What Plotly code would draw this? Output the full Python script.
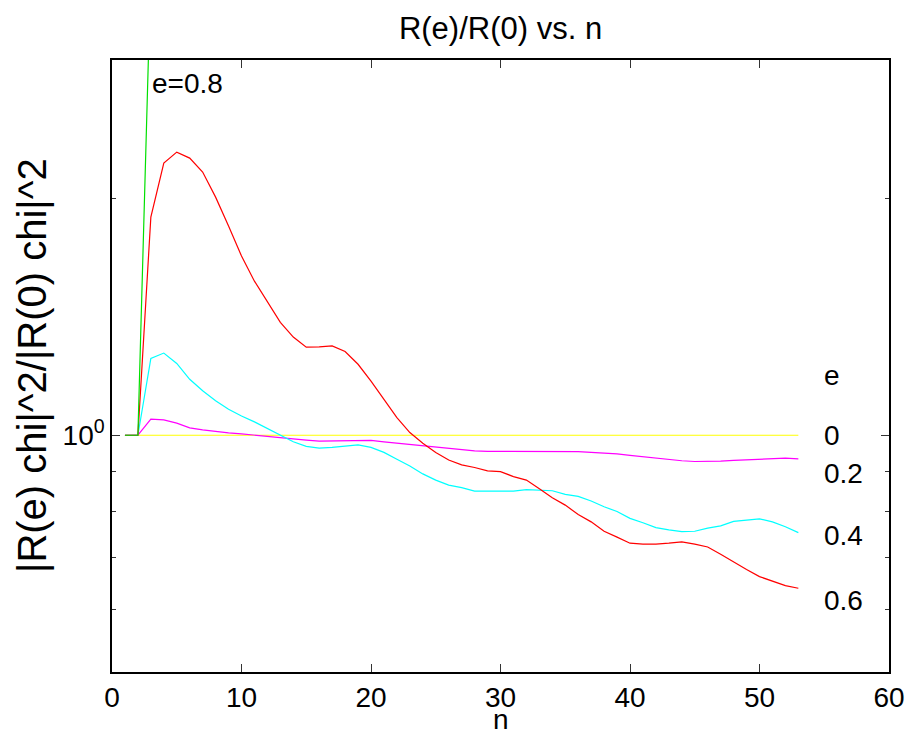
import math
import plotly.graph_objects as go

n = list(range(1, 54))

e0 = [1.0] * 53

e02 = [1.0, 1.0, 1.048, 1.046, 1.036, 1.022, 1.016, 1.011, 1.007, 1.004,
       1.000, 0.997, 0.992, 0.990, 0.986, 0.983, 0.983, 0.983, 0.985, 0.985,
       0.981, 0.977, 0.973, 0.969, 0.965, 0.962, 0.958, 0.955, 0.954, 0.954,
       0.954, 0.954, 0.954, 0.954, 0.954, 0.953, 0.951, 0.950, 0.947, 0.943,
       0.939, 0.935, 0.931, 0.928, 0.926, 0.926, 0.927, 0.929, 0.931, 0.933,
       0.934, 0.935, 0.933]

e04 = [1.0, 1.0, 1.252, 1.272, 1.234, 1.178, 1.139, 1.106, 1.079, 1.058,
       1.040, 1.020, 1.000, 0.981, 0.968, 0.963, 0.965, 0.969, 0.972, 0.965,
       0.951, 0.932, 0.914, 0.893, 0.877, 0.864, 0.858, 0.849, 0.849, 0.849,
       0.849, 0.853, 0.851, 0.850, 0.841, 0.836, 0.825, 0.811, 0.800, 0.784,
       0.774, 0.763, 0.758, 0.754, 0.755, 0.762, 0.767, 0.777, 0.780, 0.783,
       0.776, 0.765, 0.752]

e06 = [1.0, 1.0, 1.894, 2.218, 2.291, 2.251, 2.161, 2.008, 1.845, 1.690,
       1.570, 1.476, 1.392, 1.333, 1.294, 1.295, 1.299, 1.278, 1.231, 1.172,
       1.111, 1.053, 1.008, 0.977, 0.951, 0.930, 0.917, 0.910, 0.901, 0.899,
       0.886, 0.877, 0.855, 0.833, 0.815, 0.793, 0.776, 0.755, 0.742, 0.729,
       0.727, 0.727, 0.729, 0.732, 0.727, 0.721, 0.706, 0.690, 0.675, 0.661,
       0.652, 0.644, 0.639]

n08 = [1, 2, 3]
e08 = [1.0, 1.0, 3.9]

series = [
    ("0", n, e0, "#ffff00"),
    ("0.2", n, e02, "#ff00ff"),
    ("0.4", n, e04, "#00ffff"),
    ("0.6", n, e06, "#ff0000"),
    ("0.8", n08, e08, "#00e000"),
]

# text labels: (text, x, y)
labels = [
    ("e", 54.8, 1.19),
    ("0", 54.8, 1.0),
    ("0.2", 54.8, 0.895),
    ("0.4", 54.8, 0.745),
    ("0.6", 54.8, 0.617),
    ("e=0.8", 2.95, 2.8),
]

x_ticks = [0, 10, 20, 30, 40, 50, 60]
y_major = [1]
y_major_text = ["10<sup>0</sup>"]
y_minor = [0.6, 0.7, 0.8, 0.9, 2, 3]

FONT = "Liberation Sans, Arial, sans-serif"

fig = go.Figure()
for name, xs, ys, col in series:
    fig.add_trace(go.Scatter(x=xs, y=ys, mode="lines", name=name,
                             line=dict(color=col, width=1.2),
                             showlegend=False, hoverinfo="skip"))

for txt, lx, ly in labels:
    fig.add_annotation(x=lx, y=math.log10(ly), xref="x", yref="y", text=txt,
                       showarrow=False, xanchor="left", yanchor="middle",
                       font=dict(size=28, color="black", family=FONT))

fig.add_annotation(text="n", xref="paper", yref="paper", x=0.5, y=0,
                   yshift=-47, showarrow=False, yanchor="middle",
                   font=dict(size=28, color="black", family=FONT))
fig.add_annotation(text="|R(e) chi|^2/|R(0) chi|^2", xref="paper", yref="paper",
                   x=0, y=0.5, xshift=-80, textangle=-90, showarrow=False,
                   xanchor="center", yanchor="middle",
                   font=dict(size=40, color="black", family=FONT))

fig.update_layout(
    width=908, height=739,
    margin=dict(l=112, r=19, t=60, b=67),
    paper_bgcolor="white", plot_bgcolor="white",
    title=dict(text="R(e)/R(0) vs. n", x=0.5, xanchor="center", xref="paper",
               y=1 - 28 / 739, yanchor="middle", yref="container",
               font=dict(size=31, color="black", family=FONT)),
    font=dict(family=FONT, size=28, color="black"),
)

fig.update_xaxes(range=[0, 60], tickmode="array", tickvals=x_ticks,
                 ticks="inside", ticklen=8, tickcolor="#333", tickwidth=1.2,
                 showline=True, linecolor="black", linewidth=1.5, mirror="ticks",
                 showgrid=False, zeroline=False, automargin=False,
                 tickfont=dict(size=28, family=FONT, color="black"))
fig.update_yaxes(type="log", range=[math.log10(0.5), math.log10(3)],
                 tickmode="array", tickvals=y_major, ticktext=y_major_text,
                 ticks="inside", ticklen=8, tickcolor="#333", tickwidth=1.2,
                 minor=dict(tickmode="array", tickvals=y_minor, ticks="inside",
                            ticklen=4, tickcolor="#333", tickwidth=1.2, showgrid=False),
                 showline=True, linecolor="black", linewidth=1.5, mirror="ticks",
                 showgrid=False, zeroline=False, automargin=False,
                 tickfont=dict(size=28, family=FONT, color="black"))

fig.write_html("out.html",
               config={"displayModeBar": False},
               post_script="document.body.style.margin='0';"
                           "document.body.style.overflow='hidden';")
